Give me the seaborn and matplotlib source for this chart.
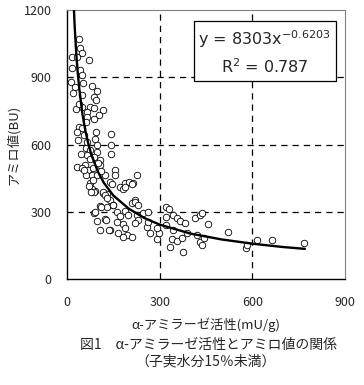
import matplotlib
matplotlib.use("Agg")
import matplotlib.pyplot as plt
import pandas as pd
import seaborn as sns

# Datos: α-アミラーゼ活性 (mU/g) y アミロ値 (BU)
amilasa = [40, 42, 50, 16, 33, 70, 16, 42, 49, 12, 26, 53, 82, 97, 20, 48, 88, 93,
           29, 48, 74, 88, 115, 64, 104, 64, 88, 40, 50, 33, 94, 142, 56, 91, 142, 96,
           142, 61, 74, 96, 64, 88, 107, 74, 58, 31, 48, 69, 85, 107, 61, 80, 96, 123,
           155, 155, 228, 188, 202, 215, 172, 182, 74, 139, 91, 80, 115, 130, 220,
           72, 88, 118, 145, 188, 209, 123, 139, 107, 128, 150, 163, 88, 172, 188, 209,
           220, 231, 198, 225, 247, 231, 220, 263, 96, 123, 161, 182, 107, 139, 188,
           166, 193, 209, 182, 258, 263, 269, 290, 299, 290, 322, 331, 320, 344, 355,
           366, 382, 322, 344, 333, 339, 355, 371, 374, 387, 414, 430, 436, 456, 420,
           430, 436, 443, 520, 579, 581, 614, 663, 768, 137, 109, 55, 77, 90, 125,
           35, 60, 45, 100, 110, 38, 65, 85, 130, 150]
amilo = [1069, 1030, 1007, 989, 989, 977, 940, 932, 910, 880, 858, 873, 861, 840, 828,
         821, 813, 798, 757, 769, 769, 762, 754, 747, 731, 721, 713, 679, 672, 654, 657,
         647, 642, 627, 598, 598, 556, 583, 575, 568, 553, 546, 531, 534, 508, 501, 494,
         486, 494, 508, 464, 464, 464, 464, 486, 464, 464, 430, 434, 427, 409, 404, 427,
         434, 394, 400, 385, 378, 352,
         415, 389, 389, 424, 412, 424, 375, 352, 326, 320, 330, 300, 293, 281, 305, 338,
         345, 330, 285, 285, 293, 263, 251, 300, 260, 266, 256, 248, 219, 219, 226, 204,
         196, 186, 186, 233, 256, 204, 177, 204, 226, 320, 311, 278, 285, 271, 260, 251,
         241, 219, 144, 177, 171, 182, 122, 204, 271, 285, 293, 248, 196, 166, 152, 182,
         211, 137, 152, 174, 174, 159, 221, 320, 486, 389, 300, 263,
         620, 700, 560, 520, 480, 780, 610, 440, 360, 330]

# Línea de tendencia leída a lo largo de la curva
curva_x = [22.6, 25, 30, 35, 40, 50, 60, 70, 80, 100, 120, 150, 200, 250, 300,
           400, 500, 600, 700, 770]
curva_y = [1200, 1125, 1007, 917, 847, 736, 659, 598, 551, 479, 428, 373, 314,
           273, 243, 203, 177, 158, 143, 135]

ecuacion = "y = 8303x$^{-0.6203}$\nR$^2$ = 0.787"
xticks = [0, 300, 600, 900]
yticks = [0, 300, 600, 900, 1200]

sns.set_style("white")
plt.rcParams["font.family"] = ["Noto Sans CJK JP", "DejaVu Sans"]

fig = plt.figure(figsize=(3.64, 3.85), dpi=100)
ax = fig.add_axes([0.184, 0.275, 0.764, 0.699])

df = pd.DataFrame({"x": amilasa, "y": amilo})
curva = pd.DataFrame({"x": curva_x, "y": curva_y})

for v in [300, 600]:
    ax.axvline(v, color="black", lw=0.9, ls=(0, (5, 4)), zorder=0)
for v in [300, 600, 900]:
    ax.axhline(v, color="black", lw=0.9, ls=(0, (5, 4)), zorder=0)

sns.scatterplot(data=df, x="x", y="y", ax=ax, marker="o", s=22,
                facecolor="white", edgecolor="black", linewidth=0.6, zorder=2)
sns.lineplot(data=curva, x="x", y="y", ax=ax, color="black", lw=1.7, zorder=3)

ax.set_xlim(0, 900)
ax.set_ylim(0, 1200)
ax.set_xticks(xticks)
ax.set_yticks(yticks)
ax.tick_params(length=0, labelsize=9)
ax.tick_params(axis="x", pad=12)
ax.tick_params(axis="y", pad=11)

for s in ["left", "bottom"]:
    ax.spines[s].set_color("black")
    ax.spines[s].set_linewidth(1.0)
for s in ["top", "right"]:
    ax.spines[s].set_color("gray")
    ax.spines[s].set_linewidth(0.8)
    ax.spines[s].set_linestyle((0, (1, 1)))

ax.set_xlabel("α-アミラーゼ活性(mU/g)", fontsize=9.5, labelpad=6)
ax.set_ylabel("アミロ値(BU)", fontsize=9.5, labelpad=3)

ax.text(0.712, 0.844, ecuacion, transform=ax.transAxes, ha="center", va="center",
        fontsize=11.5, linespacing=1.5, family="DejaVu Sans",
        bbox=dict(boxstyle="square,pad=0.3", facecolor="white", edgecolor="black", lw=0.9),
        zorder=5)

fig.text(0.572, 0.105, "図1　α-アミラーゼ活性とアミロ値の関係", ha="center", va="center",
         fontsize=10)
fig.text(0.566, 0.06, "（子実水分15％未満）", ha="center", va="center", fontsize=10)

fig.savefig("out.png", dpi=100)
